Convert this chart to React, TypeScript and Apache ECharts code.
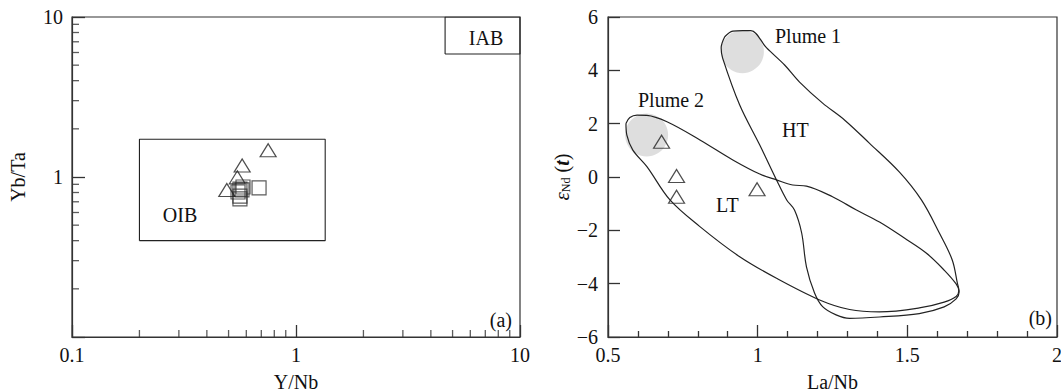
import React, { useEffect, useRef } from 'react';
import * as echarts from 'echarts';

// ---- Panel (a): Y/Nb vs Yb/Ta (log-log) ----
const leftTriX = [0.751, 0.575, 0.547, 0.491];
const leftTriY = [1.47, 1.18, 0.995, 0.83];
const leftSqX = [0.562, 0.551, 0.574, 0.562, 0.562, 0.58, 0.684];
const leftSqY = [0.841, 0.806, 0.83, 0.76, 0.729, 0.866, 0.855];
const oibBoxX = [0.2, 1.35];
const oibBoxY = [0.4, 1.72];
const iabBoxX = [4.63, 10];
const iabBoxY = [5.87, 10];
const logMinorTicks = [0.2, 0.3, 0.4, 0.5, 0.6, 0.7, 0.8, 0.9, 2, 3, 4, 5, 6, 7, 8, 9];

// ---- Panel (b): La/Nb vs eNd(t) ----
const rightTriX = [0.679, 0.729, 0.729, 0.998];
const rightTriY = [1.32, 0.04, -0.74, -0.46];
const plumeX = [0.949, 0.629];
const plumeY = [4.7, 1.575];
const htX = [0.89, 0.917, 0.95, 0.977, 1.03, 1.09, 1.14, 1.217, 1.29, 1.373, 1.473, 1.547, 1.607, 1.65, 1.667, 1.673, 1.663, 1.623, 1.54, 1.407, 1.307, 1.262, 1.217, 1.19, 1.163, 1.147, 1.123, 1.097, 1.063, 1.007, 0.94, 0.883, 0.878, 0.89];
const htY = [5.26, 5.47, 5.49, 5.49, 4.84, 4.2, 3.56, 2.77, 2.14, 1.27, 0.19, -0.86, -2.1, -3.11, -3.97, -4.31, -4.57, -4.87, -5.12, -5.25, -5.3, -5.17, -4.86, -4.35, -3.37, -2.1, -1.24, -0.86, -0.11, 1.2, 2.7, 4.46, 4.84, 5.26];
const ltX = [0.56, 0.573, 0.597, 0.63, 0.697, 0.807, 0.917, 1.007, 1.063, 1.117, 1.163, 1.25, 1.33, 1.407, 1.49, 1.563, 1.623, 1.663, 1.672, 1.663, 1.623, 1.54, 1.407, 1.307, 1.207, 1.063, 0.94, 0.807, 0.707, 0.63, 0.583, 0.563, 0.56];
const ltY = [2.01, 2.23, 2.32, 2.31, 2.07, 1.39, 0.64, 0.11, -0.11, -0.3, -0.34, -0.74, -1.24, -1.69, -2.29, -2.85, -3.49, -4.01, -4.27, -4.48, -4.69, -4.91, -5.06, -4.97, -4.61, -3.8, -2.99, -1.86, -0.86, 0.39, 1.01, 1.57, 2.01];

const FONT = "'Liberation Serif', 'Times New Roman', serif";
const INK = '#222';
const AXIS = '#333';

const zip = (xs: number[], ys: number[]) => xs.map((x, i) => [x, ys[i]]);
const box = (bx: number[], by: number[]) => [
  [bx[0], by[0]], [bx[1], by[0]], [bx[1], by[1]], [bx[0], by[1]], [bx[0], by[0]],
];

const labelStyle = { fontFamily: FONT, fontSize: 20, color: '#111' };
const nameStyle = { fontFamily: FONT, fontSize: 20, color: '#111' };
const tickLine = { color: AXIS, width: 1.3 };

export default function App() {
  const ref = useRef<HTMLDivElement>(null);
  useEffect(() => {
    if (!ref.current) return;
    const chart = echarts.init(ref.current, undefined, { renderer: 'svg' });
    const txt = (text: string, x: number, y: number, align = 'left') => ({
      type: 'text', x, y, z: 10,
      style: { text, fontFamily: FONT, fontSize: 20, fill: '#111', align, verticalAlign: 'middle' },
    });
    const axisBase = {
      axisLine: { show: true, onZero: false, lineStyle: { color: AXIS, width: 1.2 } },
      splitLine: { show: false },
    };
    chart.setOption({
      animation: false,
      grid: [
        { left: 72, top: 17, width: 448, height: 320, show: true, borderColor: AXIS, borderWidth: 1.2, backgroundColor: 'transparent', containLabel: false, outerBoundsMode: 'none' },
        { left: 608, top: 17, width: 449, height: 320, show: true, borderColor: AXIS, borderWidth: 1.2, backgroundColor: 'transparent', containLabel: false, outerBoundsMode: 'none' },
      ],
      xAxis: [
        {
          ...axisBase,
          type: 'log', logBase: 10, min: 0.1, max: 10, gridIndex: 0,
          axisTick: { show: true, inside: true, length: 12, lineStyle: tickLine },
          axisLabel: { ...labelStyle, margin: 8 },
          name: 'Y/Nb', nameLocation: 'middle', nameGap: 35,
          nameTextStyle: nameStyle,
        },
        {
          ...axisBase,
          type: 'value', min: 0.5, max: 2, interval: 0.5, gridIndex: 1,
          axisTick: { show: true, inside: true, length: 12, lineStyle: tickLine },
          minorTick: { show: true, splitNumber: 5, length: 6, lineStyle: tickLine },
          axisLabel: { ...labelStyle, margin: 8 },
          name: 'La/Nb', nameLocation: 'middle', nameGap: 35,
          nameTextStyle: nameStyle,
        },
      ],
      yAxis: [
        {
          ...axisBase,
          type: 'log', logBase: 10, min: 0.1, max: 10, gridIndex: 0,
          axisTick: { show: true, inside: true, length: 13, lineStyle: tickLine },
          axisLabel: {
            ...labelStyle, margin: 9,
            formatter: (v: number) => (Math.abs(v - 0.1) < 1e-6 ? '' : String(Math.round(v))),
          },
          name: 'Yb/Ta', nameLocation: 'middle', nameGap: 44,
          nameTextStyle: nameStyle,
        },
        {
          ...axisBase,
          type: 'value', min: -6, max: 6, interval: 2, gridIndex: 1,
          axisTick: { show: true, inside: true, length: 12, lineStyle: tickLine },
          axisLabel: {
            ...labelStyle, margin: 10,
            formatter: (v: number) => (v < 0 ? '\u2212' + Math.abs(v) : String(v)),
          },
          name: '{e|ε}{s|Nd}{p| (}{t|t}{p|)}', nameLocation: 'middle', nameGap: 32,
          nameTextStyle: {
            ...nameStyle,
            rich: {
              e: { fontFamily: FONT, fontSize: 21, fontStyle: 'italic', color: '#111' },
              s: { fontFamily: FONT, fontSize: 12, color: '#111', padding: [8, 0, 0, 0] },
              p: { fontFamily: FONT, fontSize: 20, color: '#111' },
              t: { fontFamily: FONT, fontSize: 20, fontStyle: 'italic', fontWeight: 'bold', color: '#111' },
            },
          },
        },
      ],
      graphic: [
        txt('IAB', 486, 38, 'center'),
        txt('OIB', 180, 215, 'center'),
        txt('(a)', 512, 320, 'right'),
        txt('Plume 1', 775, 36, 'left'),
        txt('Plume 2', 638, 100, 'left'),
        txt('HT', 782, 130, 'left'),
        txt('LT', 716, 205, 'left'),
        txt('(b)', 1052, 318, 'right'),
      ],
      series: [
        {
          // minor ticks of the log x axis (panel a)
          type: 'scatter', xAxisIndex: 0, yAxisIndex: 0, clip: false, silent: true,
          data: logMinorTicks.map((v) => [v, 0.1]),
          symbol: 'rect', symbolSize: [1.3, 7], symbolOffset: [0, -3.5],
          itemStyle: { color: AXIS },
        },
        {
          // minor ticks of the log y axis (panel a)
          type: 'scatter', xAxisIndex: 0, yAxisIndex: 0, clip: false, silent: true,
          data: logMinorTicks.map((v) => [0.1, v]),
          symbol: 'rect', symbolSize: [7, 1.3], symbolOffset: [3.5, 0],
          itemStyle: { color: AXIS },
        },
        {
          type: 'line', xAxisIndex: 0, yAxisIndex: 0, data: box(oibBoxX, oibBoxY),
          symbol: 'none', lineStyle: { color: INK, width: 1.1 }, silent: true,
        },
        {
          type: 'line', xAxisIndex: 0, yAxisIndex: 0, data: box(iabBoxX, iabBoxY),
          symbol: 'none', lineStyle: { color: INK, width: 1.1 }, silent: true,
        },
        {
          type: 'scatter', xAxisIndex: 0, yAxisIndex: 0, data: zip(leftSqX, leftSqY),
          symbol: 'rect', symbolSize: 14,
          itemStyle: { color: 'transparent', borderColor: '#333', borderWidth: 1.2 },
        },
        {
          type: 'scatter', xAxisIndex: 0, yAxisIndex: 0, data: zip(leftTriX, leftTriY),
          symbol: 'triangle', symbolSize: [16, 13],
          itemStyle: { color: 'transparent', borderColor: INK, borderWidth: 1.2 },
        },
        {
          type: 'scatter', xAxisIndex: 1, yAxisIndex: 1, data: zip(plumeX, plumeY),
          symbol: 'circle', symbolSize: 43, z: 1,
          itemStyle: { color: '#d6d6d6' }, silent: true,
        },
        {
          type: 'line', xAxisIndex: 1, yAxisIndex: 1, data: zip(htX, htY), z: 3,
          symbol: 'none', smooth: 0.35, lineStyle: { color: INK, width: 1.2 }, silent: true,
        },
        {
          type: 'line', xAxisIndex: 1, yAxisIndex: 1, data: zip(ltX, ltY), z: 3,
          symbol: 'none', smooth: 0.35, lineStyle: { color: INK, width: 1.2 }, silent: true,
        },
        {
          type: 'scatter', xAxisIndex: 1, yAxisIndex: 1, data: zip(rightTriX, rightTriY), z: 4,
          symbol: 'triangle', symbolSize: [16, 13],
          itemStyle: { color: 'transparent', borderColor: INK, borderWidth: 1.2 },
        },
      ],
    });
    return () => chart.dispose();
  }, []);
  return (
    <div
      ref={ref}
      style={{ position: 'absolute', left: 0, top: 0, width: 1061, height: 392, background: '#fff' }}
    />
  );
}
